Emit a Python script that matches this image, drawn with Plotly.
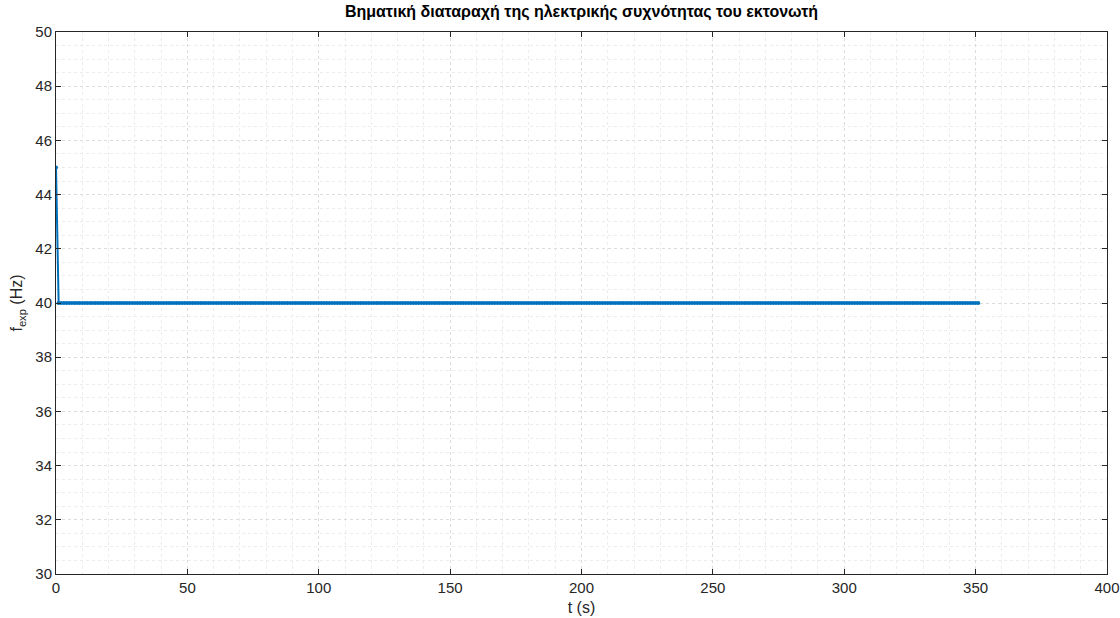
import plotly.graph_objects as go

# Data
t_values = list(range(0, 352))            # time in seconds
f_exp = [45] + [40] * 351                 # expander electrical frequency (Hz)

x_ticks = [0, 50, 100, 150, 200, 250, 300, 350, 400]
y_ticks = [30, 32, 34, 36, 38, 40, 42, 44, 46, 48, 50]

FONT = "Liberation Sans, Arial, sans-serif"

fig = go.Figure()
fig.add_trace(go.Scatter(
    x=t_values, y=f_exp, mode="lines+markers",
    line=dict(color="#0072BD", width=2),
    marker=dict(color="#0072BD", size=4),
    showlegend=False,
))

axis_common = dict(
    showline=True, linecolor="#262626", linewidth=1, mirror="ticks",
    ticks="inside", ticklen=5, tickcolor="#262626", tickwidth=1,
    showgrid=True, gridcolor="#dcdcdc", gridwidth=1, griddash="dot",
    zeroline=False, automargin=False,
    tickfont=dict(family=FONT, size=15, color="#262626"),
)

fig.update_xaxes(
    range=[0, 400], tickvals=x_ticks,
    minor=dict(dtick=10, showgrid=True, gridcolor="#ececec", griddash="dot", ticks=""),
    title=dict(text="t (s)", font=dict(family=FONT, size=16, color="#262626"), standoff=6),
    **axis_common,
)
fig.update_yaxes(
    range=[30, 50], tickvals=y_ticks,
    minor=dict(dtick=0.5, showgrid=True, gridcolor="#ececec", griddash="dot", ticks=""),
    title=dict(text="f<sub>exp</sub> (Hz)", font=dict(family=FONT, size=16, color="#262626"), standoff=8),
    **axis_common,
)

fig.update_layout(
    width=1120, height=618,
    margin=dict(l=56, r=13, t=32, b=44),
    paper_bgcolor="white", plot_bgcolor="white",
    title=dict(
        text="<b>Βηματική διαταραχή της ηλεκτρικής συχνότητας του εκτονωτή</b>",
        x=0.5, xanchor="center", xref="paper", y=0.99, yanchor="top",
        font=dict(family=FONT, size=16, color="#000000"),
    ),
)

fig.write_html("out.html")
